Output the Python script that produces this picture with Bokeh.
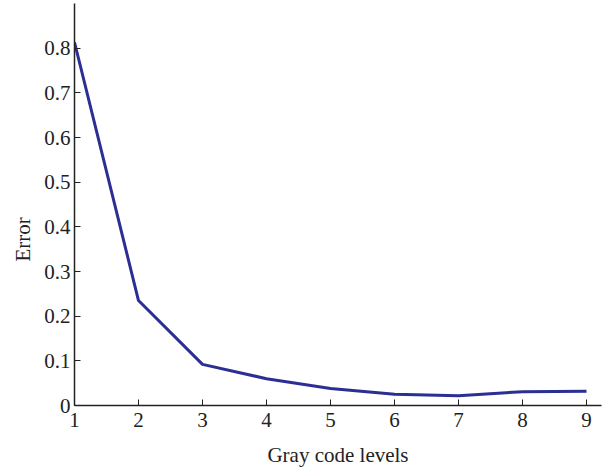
from bokeh.plotting import figure
from bokeh.models import Range1d, FixedTicker, Title
from bokeh.embed import file_html
from bokeh.resources import INLINE

levels = [1, 2, 3, 4, 5, 6, 7, 8, 9]
error = [0.813, 0.235, 0.092, 0.060, 0.038, 0.025, 0.022, 0.031, 0.032]
y_ticks = [0, 0.1, 0.2, 0.3, 0.4, 0.5, 0.6, 0.7, 0.8]
y_tick_labels = {0: "0", 0.1: "0.1", 0.2: "0.2", 0.3: "0.3", 0.4: "0.4",
                 0.5: "0.5", 0.6: "0.6", 0.7: "0.7", 0.8: "0.8"}
y_title = "Error"
x_title = "Gray code levels"

FONT = "Liberation Serif"

p = figure(width=602, height=469, output_backend="svg", toolbar_location=None,
           x_range=Range1d(1, 9.234), y_range=Range1d(0, 0.9),
           min_border_left=74, min_border_right=1, min_border_top=3,
           min_border_bottom=63)
p.outline_line_color = None
p.grid.visible = False
p.background_fill_color = "white"
p.border_fill_color = "white"

p.line(levels, error, line_color="#2b2e92", line_width=3)

for ax in (p.xaxis[0], p.yaxis[0]):
    ax.major_tick_in = 6
    ax.major_tick_out = 0
    ax.minor_tick_in = 0
    ax.minor_tick_out = 0
    ax.axis_line_color = "#222222"
    ax.axis_line_width = 1.5
    ax.major_tick_line_color = "#222222"
    ax.major_label_text_font = FONT
    ax.major_label_text_font_size = "21px"
    ax.major_label_text_color = "#222222"
    ax.axis_label_text_font = FONT
    ax.axis_label_text_font_size = "21px"
    ax.axis_label_text_font_style = "normal"
    ax.axis_label_text_color = "#222222"

p.xaxis.ticker = FixedTicker(ticks=levels)
p.xaxis.major_label_standoff = 7
p.xaxis.axis_label = x_title
p.xaxis.axis_label_standoff = 13

p.yaxis.ticker = FixedTicker(ticks=y_ticks)
p.yaxis.major_label_overrides = y_tick_labels
p.yaxis.major_label_standoff = 4

p.add_layout(Title(text=y_title, align="left", offset=144, standoff=14,
                   text_font=FONT, text_font_size="21px",
                   text_font_style="normal", text_color="#222222"), "left")

open("out.html", "w").write(file_html(p, INLINE))
